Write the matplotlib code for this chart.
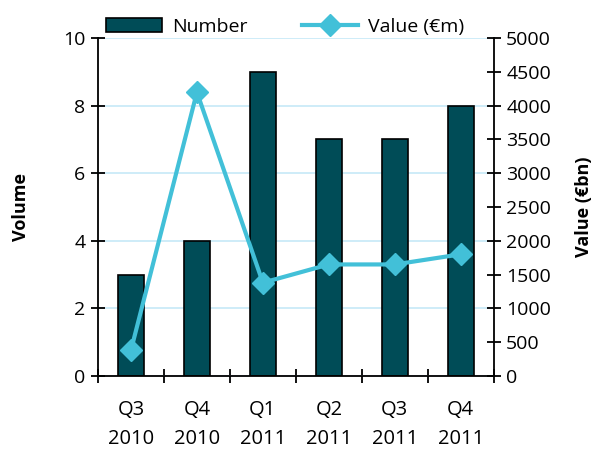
import matplotlib.pyplot as plt
import numpy as np

plt.rcParams['font.family'] = ['Open Sans', 'DejaVu Sans']

quarters = ['Q3\n2010', 'Q4\n2010', 'Q1\n2011', 'Q2\n2011', 'Q3\n2011', 'Q4\n2011']
number = [3, 4, 9, 7, 7, 8]
value = [380, 4200, 1380, 1650, 1650, 1800]

bar_color = '#004C57'
line_color = '#42C0D8'

fig = plt.figure(figsize=(5.92, 4.54), dpi=100)
ax = fig.add_axes([0.1655, 0.172, 0.6685, 0.744])
x = np.arange(len(quarters))

bars = ax.bar(x, number, width=0.4, color=bar_color, edgecolor='black', linewidth=1.2, zorder=2,
              label='Number')
ax.set_xlim(-0.5, len(quarters) - 0.5)
ax.set_ylim(0, 10)
ax.set_yticks(np.arange(0, 11, 2))
ax.yaxis.grid(True, color='#C6E9F7', linewidth=1.2, zorder=0)
ax.set_axisbelow(True)

ax.set_xticks(x)
ax.set_xticklabels(quarters, fontsize=14.5, linespacing=1.6)
ax.set_xticks(np.arange(-0.5, len(quarters)), minor=True)
ax.tick_params(axis='x', which='major', length=0, pad=17)
ax.tick_params(axis='x', which='minor', direction='inout', length=10, width=1.3)
ax.tick_params(axis='y', direction='inout', length=10, width=1.3, labelsize=14, pad=4)

for s in ['top', 'right']:
    ax.spines[s].set_visible(False)
for s in ['left', 'bottom']:
    ax.spines[s].set_linewidth(1.3)

ax.set_ylabel('Volume', fontsize=13, fontweight='bold')
ax.yaxis.set_label_coords(-0.172, 0.5)

ax2 = ax.twinx()
line, = ax2.plot(x, value, color=line_color, linewidth=3, marker='D', markersize=11,
                 label='Value (€m)')
ax2.set_ylim(0, 5000)
ax2.set_yticks(np.arange(0, 5001, 500))
ax2.tick_params(axis='y', direction='inout', length=10, width=1.3, labelsize=14, pad=4)
for s in ['top', 'left', 'bottom']:
    ax2.spines[s].set_visible(False)
ax2.spines['right'].set_linewidth(1.3)
ax2.set_ylabel('Value (€bn)', fontsize=13, fontweight='bold')
ax2.yaxis.set_label_coords(1.205, 0.5)

leg = ax.legend([bars, line], ['Number', 'Value (€m)'], loc='center',
                bbox_to_anchor=(0.472, 1.033), ncol=2, frameon=False, fontsize=14,
                handlelength=2.9, handletextpad=0.5, columnspacing=2.8, borderaxespad=0)

fig.savefig('out.png', dpi=100)
